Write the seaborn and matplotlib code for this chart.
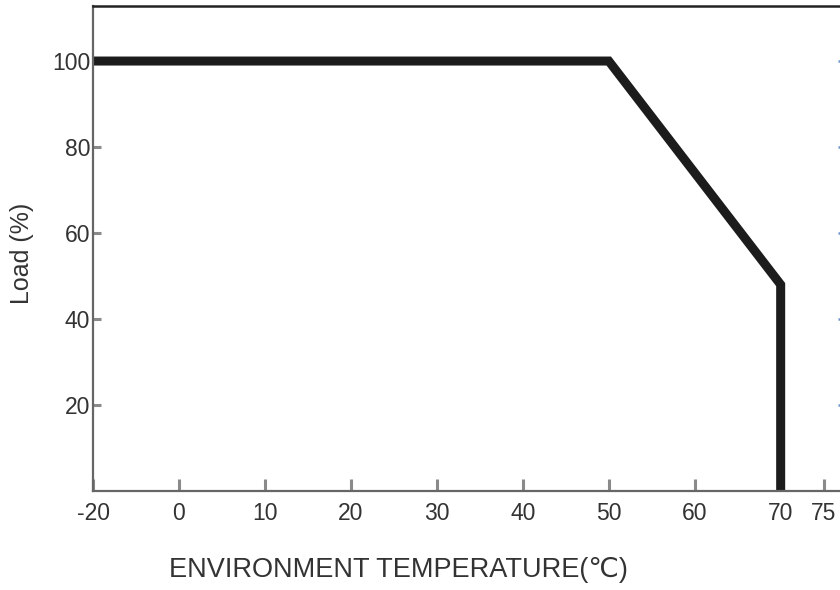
import matplotlib
matplotlib.use("Agg")
import matplotlib.pyplot as plt
import seaborn as sns
import pandas as pd

# Data
temperature = [-10, 50, 70, 70]
load = [100, 100, 48, 0]
x_tick_pos = [-10, 0, 10, 20, 30, 40, 50, 60, 70, 75]
x_tick_labels = ["-20", "0", "10", "20", "30", "40", "50", "60", "70", "75"]
y_ticks = [20, 40, 60, 80, 100]
y_tick_labels = ["20", "40", "60", "80", "100"]

sns.set_theme(style="white")
plt.rcParams["font.family"] = ["Liberation Sans", "DejaVu Sans"]

fig = plt.figure(figsize=(8.4, 5.9), dpi=100)
ax = fig.add_axes([93 / 840, 99 / 590, 753 / 840, 485 / 590])

df = pd.DataFrame({"temp": temperature, "load": load})
sns.lineplot(data=df, x="temp", y="load", estimator=None, sort=False,
             color="#1c1c1c", linewidth=6.5, ax=ax)
for l in ax.lines:
    l.set_solid_joinstyle("miter")
    l.set_solid_capstyle("butt")

ax.set_xlim(-10, 77.6)
ax.set_ylim(0, 112.8)

ax.set_xticks(x_tick_pos)
ax.set_xticklabels(x_tick_labels)
ax.set_yticks(y_ticks)
ax.set_yticklabels(y_tick_labels)

txt = "#333333"
ax.tick_params(axis="x", direction="in", length=9, width=2.2, color="#8a8a8a",
               labelsize=16.5, labelcolor=txt, pad=8, bottom=True)
ax.tick_params(axis="y", direction="in", length=6, width=2.2, color="#8a8a8a",
               labelsize=16.5, labelcolor=txt, pad=2, left=True)

for side in ["left", "bottom"]:
    ax.spines[side].set_color("#666666")
    ax.spines[side].set_linewidth(1.6)
ax.spines["top"].set_color("#222222")
ax.spines["top"].set_linewidth(1.8)
ax.spines["right"].set_visible(False)

ax.set_xlabel("ENVIRONMENT TEMPERATURE(℃)", fontsize=19.5, color=txt)
ax.xaxis.set_label_coords(0.405, -0.136)
ax.set_ylabel("Load (%)", fontsize=18, color=txt)
ax.yaxis.set_label_coords(-0.079, 0.49)

# right-side blue tick marks
ax2 = ax.twinx()
ax2.set_ylim(ax.get_ylim())
ax2.set_yticks(y_ticks)
ax2.set_yticklabels([])
ax2.tick_params(axis="y", direction="in", length=6, width=1.8, color="#6f93cf", right=True)
for s in ax2.spines.values():
    s.set_visible(False)
ax2.grid(False)
ax.grid(False)

fig.savefig("out.png", dpi=100, facecolor="white")
